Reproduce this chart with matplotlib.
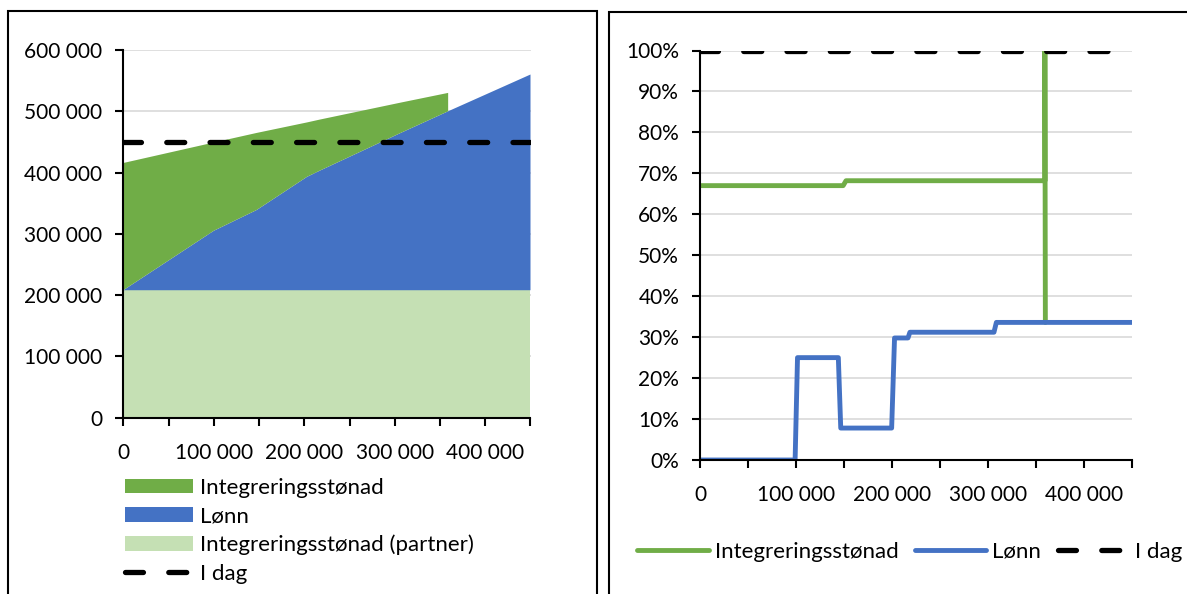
import matplotlib
matplotlib.use("Agg")
import matplotlib.pyplot as plt
from matplotlib.patches import Rectangle
from matplotlib.ticker import FuncFormatter, MultipleLocator

plt.rcParams['font.family'] = ['Lato', 'DejaVu Sans']

# Farger
GREEN = "#70AD47"
BLUE = "#4472C4"
LIGHT_GREEN = "#C5E0B4"
GRID = "#D9D9D9"

# Venstre figur: disponibel inntekt (stablet areal)
inntekt_x = [0, 100000, 147500, 203000, 217000, 307000, 359000, 359000, 450000]
partner = [208000, 208000, 208000, 208000, 208000, 208000, 208000, 208000, 208000]
lonn_netto = [0, 97000, 131000, 185000, 195000, 257000, 292000, 292000, 352000]
stonad = [207600, 144000, 125700, 88800, 83400, 49300, 30000, 0, 0]
i_dag_kr = 450000

# Høyre figur: effektiv marginalskatt
lonn_rate_x = [0, 99000, 101500, 144000, 146500, 199500, 202500, 216500, 218500, 306000, 308500, 450000]
lonn_rate = [0, 0, 0.25, 0.25, 0.078, 0.078, 0.298, 0.298, 0.312, 0.312, 0.336, 0.336]
stonad_rate_x = [0, 149000, 152000, 359000, 359000, 359500]
stonad_rate = [0.67, 0.67, 0.682, 0.682, 1.0, 0.336]
i_dag_rate = 1.0

labels_area = ["Integreringsstønad", "Lønn", "Integreringsstønad (partner)", "I dag"]
labels_line = ["Integreringsstønad", "Lønn", "I dag"]

W, H = 1187, 594
fig = plt.figure(figsize=(W / 100, H / 100), dpi=100)

# rammer rundt de to figurene
fig.patches.append(Rectangle((8.3 / W, -0.1), (596.7 - 8.3) / W, 1.1 - 11 / H,
                             transform=fig.transFigure, fill=False, lw=1.5, ec="black"))
fig.patches.append(Rectangle((608.7 / W, -0.1), 0.6, 1.1 - 11.5 / H,
                             transform=fig.transFigure, fill=False, lw=1.5, ec="black"))

FS = 15
LFS = 16
DASH = (3.4, 4.8)


def kr(v, pos=None):
    return f"{int(round(v)):,}".replace(",", " ")


def style_axes(ax):
    for s in ["top", "right"]:
        ax.spines[s].set_visible(False)
    for s in ["left", "bottom"]:
        ax.spines[s].set_linewidth(1.5)
        ax.spines[s].set_color("black")
    ax.tick_params(length=6, width=1.5, labelsize=FS, colors="black")
    ax.tick_params(axis="y", pad=9)
    ax.tick_params(axis="x", pad=12)
    ax.yaxis.grid(True, color=GRID, lw=1.2)
    ax.set_axisbelow(True)
    ax.set_xlim(0, 450000)
    ax.xaxis.set_major_locator(MultipleLocator(50000))
    ax.xaxis.set_major_formatter(FuncFormatter(lambda v, p: kr(v) if round(v) % 100000 == 0 else ""))


# ---- venstre
ax1 = fig.add_axes([123.3 / W, (H - 417.7) / H, (530.5 - 123.3) / W, (417.7 - 50) / H])
polys = ax1.stackplot(inntekt_x, partner, lonn_netto, stonad,
                      colors=[LIGHT_GREEN, BLUE, GREEN], lw=0)
dag1, = ax1.plot([0, 450000], [i_dag_kr, i_dag_kr], color="black", lw=3.8,
                 dashes=DASH, dash_capstyle="round", zorder=3)
ax1.set_ylim(0, 600000)
ax1.yaxis.set_major_locator(MultipleLocator(100000))
ax1.yaxis.set_major_formatter(FuncFormatter(kr))
style_axes(ax1)
ax1.legend([polys[2], polys[1], polys[0], dag1], labels_area,
           loc="upper left", bbox_to_anchor=(125 / W, 1 - 478 / H),
           bbox_transform=fig.transFigure, frameon=False, fontsize=LFS,
           handlelength=3.06, handleheight=0.63, handletextpad=0.33,
           labelspacing=0.38, borderpad=0, borderaxespad=0)

# ---- høyre
ax2 = fig.add_axes([700 / W, (H - 460) / H, 432.3 / W, (460 - 50.5) / H])
l_st, = ax2.plot(stonad_rate_x, stonad_rate, color=GREEN, lw=3.5, solid_capstyle="round",
                 solid_joinstyle="round")
l_lo, = ax2.plot(lonn_rate_x, lonn_rate, color=BLUE, lw=3.5, solid_capstyle="round",
                 solid_joinstyle="round")
dag2, = ax2.plot([0, 450000], [i_dag_rate, i_dag_rate], color="black", lw=3.8,
                 dashes=DASH, dash_capstyle="round", clip_on=True, zorder=3)
ax2.set_ylim(0, 1)
ax2.yaxis.set_major_locator(MultipleLocator(0.1))
ax2.yaxis.set_major_formatter(FuncFormatter(lambda v, p: f"{v * 100:.0f}%"))
style_axes(ax2)
ax2.legend([l_st, l_lo, dag2], labels_line, loc="center",
           bbox_to_anchor=(910 / W, 1 - 552 / H), bbox_transform=fig.transFigure,
           ncol=3, frameon=False, fontsize=LFS, handlelength=3.2, handletextpad=0.28,
           columnspacing=0.75, borderpad=0)

fig.savefig("out.png", dpi=100)
